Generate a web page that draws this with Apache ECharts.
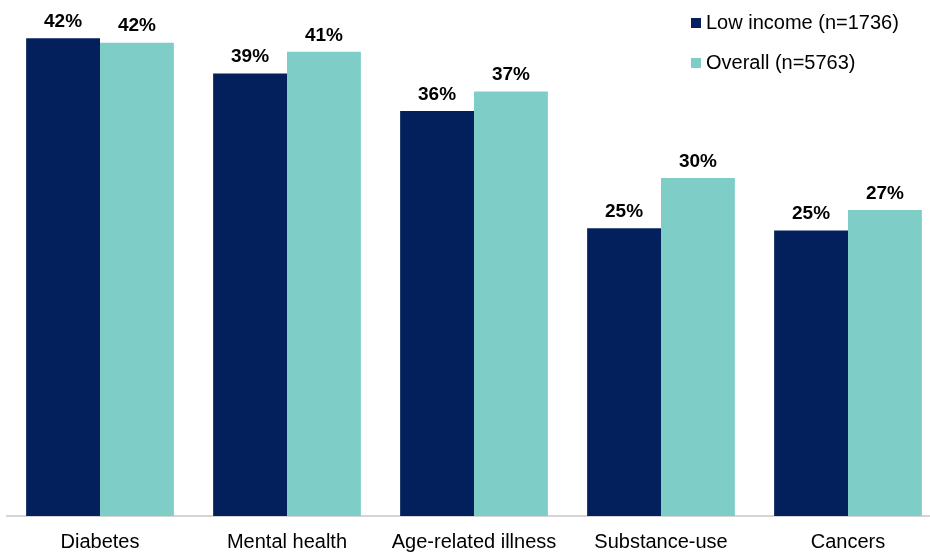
<!DOCTYPE html>
<html>
<head>
<meta charset="utf-8">
<script src="https://cdn.jsdelivr.net/npm/echarts@6/dist/echarts.min.js"></script>
<style>html,body{margin:0;padding:0;background:#fff}#c{width:930px;height:554px}</style>
</head>
<body>
<div id="c"></div>
<script>
const categories = ['Diabetes', 'Mental health', 'Age-related illness', 'Substance-use', 'Cancers'];
const lowIncome = [42.0, 38.9, 35.6, 25.3, 25.1];
const overall = [41.6, 40.8, 37.3, 29.7, 26.9];
const seriesNames = ['Low income (n=1736)', 'Overall (n=5763)'];

const chart = echarts.init(document.getElementById('c'));
const labelCfg = {
  show: true, position: 'top', distance: 7,
  fontFamily: 'Liberation Sans, Arial, sans-serif', fontSize: 19, fontWeight: 'bold', color: '#000',
  formatter: p => Math.round(p.value) + '%'
};
chart.setOption({
  animation: false,
  legend: {
    orient: 'vertical', left: 686, top: 8, itemWidth: 10, itemHeight: 10, itemGap: 20,
    icon: 'rect',
    textStyle: { fontFamily: 'Liberation Sans, Arial, sans-serif', fontSize: 20, color: '#000', padding: [0, 0, 0, 0] },
    data: seriesNames
  },
  grid: { left: 6.5, right: -11.5, top: 4, bottom: 38, containLabel: false, outerBoundsMode: 'none' },
  xAxis: {
    type: 'category', data: categories,
    axisLine: { show: true, lineStyle: { color: '#c8c8c8', width: 1.5 } },
    axisTick: { show: false },
    axisLabel: { interval: 0, hideOverlap: false, fontFamily: 'Liberation Sans, Arial, sans-serif', fontSize: 20, color: '#000', margin: 16 }
  },
  yAxis: { type: 'value', min: 0, max: 45, show: false, splitLine: { show: false } },
  series: [
    { name: seriesNames[0], type: 'bar', data: lowIncome, barGap: '0%', barCategoryGap: '21%',
      itemStyle: { color: '#03205c' }, label: labelCfg },
    { name: seriesNames[1], type: 'bar', data: overall,
      itemStyle: { color: '#7ecdc6' }, label: labelCfg }
  ]
});
</script>
</body>
</html>
